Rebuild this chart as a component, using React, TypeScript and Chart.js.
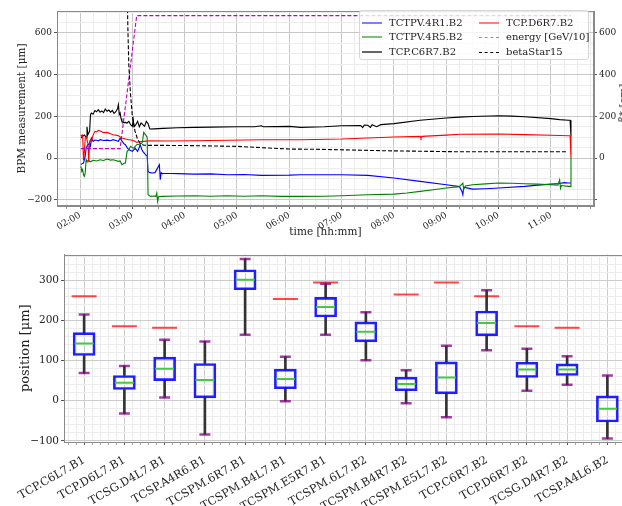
import React, { useEffect, useRef } from 'react';
import { Chart, registerables } from 'chart.js';

Chart.register(...registerables);

const SERIF = "'DejaVu Serif', serif";
const TXT = '#222';

// ---------------- top chart data (time hh:mm, value) ----------------
const TCTPV_4R1_B2: [string, number][] = [
  ['02:01', -32], ['02:02', -28], ['02:04', -24], ['02:05', -8], ['02:06', 10], ['02:07', 48], ['02:09', 64],
  ['02:11', 70], ['02:12', 58], ['02:13', 96], ['02:15', 80], ['02:17', 86], ['02:19', 85], ['02:21', 82],
  ['02:23', 88], ['02:27', 84], ['02:31', 86], ['02:35', 83], ['02:38', 88], ['02:41', 84], ['02:44', 80],
  ['02:46', 96], ['02:48', 82], ['02:50', 70], ['02:52', 64], ['02:54', 50], ['02:56', 40], ['02:58', 36],
  ['03:00', 32], ['03:02', 42], ['03:03', 48], ['03:05', 38], ['03:06', 32], ['03:08', 52], ['03:09', 64],
  ['03:11', 40], ['03:12', 32], ['03:15', 16], ['03:17', 10], ['03:18', -64], ['03:20', -70], ['03:23', -72],
  ['03:26', -70], ['03:30', -40], ['03:31', -32], ['03:32', -104], ['03:33', -70], ['03:34', -74], ['03:45', -74],
  ['03:52', -75], ['04:11', -77], ['04:30', -76], ['04:49', -80], ['05:08', -79], ['05:28', -83], ['06:00', -82],
  ['06:13', -80], ['06:40', -80], ['07:00', -80], ['07:30', -83], ['08:00', -96], ['08:30', -112], ['09:00', -128],
  ['09:15', -137], ['09:18', -160], ['09:19', -176], ['09:20', -140], ['09:30', -149], ['09:45', -147],
  ['10:00', -144], ['10:30', -136], ['10:45', -130], ['11:00', -125], ['11:10', -122], ['11:15', -118],
  ['11:20', -120], ['11:23', -120],
];

const TCTPV_4R5_B2: [string, number][] = [
  ['02:01', -40], ['02:02', -64], ['02:03', -55], ['02:04', -80], ['02:05', -88], ['02:06', -70], ['02:07', -8],
  ['02:08', -16], ['02:10', -12], ['02:12', -18], ['02:15', -11], ['02:19', -14], ['02:23', -8], ['02:27', -12],
  ['02:31', -5], ['02:35', -10], ['02:38', -8], ['02:41', -12], ['02:44', -16], ['02:46', -14], ['02:48', -32],
  ['02:50', -26], ['02:52', -24], ['02:54', 32], ['02:56', 40], ['02:58', 56], ['03:00', 50], ['03:02', 48],
  ['03:04', 60], ['03:05', 64], ['03:08', 66], ['03:11', 72], ['03:12', 90], ['03:13', 123], ['03:15', 112],
  ['03:17', 100], ['03:18', -176], ['03:21', -184], ['03:25', -182], ['03:27', -184], ['03:28', -168],
  ['03:29', -208], ['03:30', -186], ['03:34', -184], ['03:52', -182], ['04:11', -181], ['04:30', -183],
  ['04:49', -181], ['05:08', -183], ['05:28', -181], ['05:50', -184], ['06:13', -184], ['06:40', -183],
  ['07:00', -181], ['07:30', -176], ['08:00', -173], ['08:15', -168], ['08:30', -160], ['08:45', -152],
  ['09:00', -144], ['09:15', -137], ['09:19', -120], ['09:20', -150], ['09:22', -134], ['09:30', -128],
  ['09:45', -124], ['10:00', -120], ['10:15', -121], ['10:30', -123], ['10:45', -125], ['11:00', -128],
  ['11:08', -130], ['11:10', -105], ['11:11', -145], ['11:12', -132], ['11:20', -136], ['11:22', -136], ['11:23', 0],
];

const TCP_C6R7_B2: [string, number][] = [
  ['02:01', 96], ['02:03', 104], ['02:05', 110], ['02:07', 100], ['02:08', 150], ['02:09', 112], ['02:11', 128],
  ['02:12', 208], ['02:13', 216], ['02:15', 210], ['02:17', 228], ['02:19', 222], ['02:21', 232], ['02:23', 220],
  ['02:25', 226], ['02:27', 218], ['02:29', 235], ['02:31', 224], ['02:33', 230], ['02:35', 220], ['02:37', 228],
  ['02:39', 214], ['02:41', 222], ['02:43', 236], ['02:44', 256], ['02:45', 208], ['02:46', 216], ['02:47', 190],
  ['02:48', 176], ['02:50', 170], ['02:52', 171], ['02:54', 168], ['02:56', 176], ['02:58', 160], ['03:00', 152],
  ['03:01', 184], ['03:02', 150], ['03:04', 160], ['03:06', 176], ['03:08', 150], ['03:10', 168], ['03:12', 160],
  ['03:14', 152], ['03:16', 176], ['03:18', 165], ['03:20', 139], ['03:25', 140], ['03:35', 142], ['03:52', 145],
  ['04:11', 147], ['04:30', 148], ['05:00', 150], ['05:20', 150], ['05:28', 155], ['05:30', 150], ['06:00', 152],
  ['06:13', 147], ['06:40', 150], ['07:00', 155], ['07:22', 156], ['07:24', 146], ['07:26', 158], ['07:30', 157],
  ['07:33', 147], ['07:35', 160], ['07:40', 150], ['07:45', 160], ['08:00', 165], ['08:30', 181], ['09:00', 192],
  ['09:15', 196], ['09:30', 199], ['10:00', 203], ['10:15', 201], ['10:30', 198], ['11:00', 189], ['11:10', 184],
  ['11:20', 181], ['11:22', 181], ['11:23', 105],
];

const TCP_D6R7_B2: [string, number][] = [
  ['02:01', 112], ['02:02', 104], ['02:03', 110], ['02:04', -10], ['02:05', 30], ['02:06', 95], ['02:07', 100],
  ['02:08', 88], ['02:09', 70], ['02:10', -20], ['02:11', 80], ['02:12', 88], ['02:13', 80], ['02:15', 110],
  ['02:17', 128], ['02:19', 125], ['02:21', 133], ['02:23', 130], ['02:25', 126], ['02:27', 122], ['02:31', 123],
  ['02:35', 116], ['02:38', 112], ['02:41', 110], ['02:44', 107], ['02:48', 96], ['02:52', 91], ['02:56', 88],
  ['03:00', 85], ['03:03', 80], ['03:05', 75], ['03:08', 78], ['03:13', 80], ['03:20', 83], ['03:40', 82],
  ['04:11', 83], ['04:49', 85], ['05:28', 88], ['06:13', 88], ['07:00', 91], ['07:30', 96], ['08:00', 101],
  ['08:30', 104], ['08:31', 95], ['08:32', 104], ['09:00', 110], ['09:15', 114], ['10:00', 115], ['10:30', 112],
  ['11:00', 109], ['11:20', 107], ['11:22', 107], ['11:23', 0],
];

const ENERGY: [string, number][] = [['02:01', 45], ['02:46', 45], ['03:05', 683], ['11:23', 683]];

const BETA_STAR_15: [string, number][] = [
  ['02:01', 1100], ['02:53', 1100], ['02:54', 800], ['02:55', 600], ['02:56', 440], ['02:58', 300], ['03:00', 200],
  ['03:03', 130], ['03:06', 90], ['03:09', 70], ['03:13', 61], ['04:00', 60], ['05:00', 56], ['05:36', 48],
  ['06:00', 43], ['06:30', 42], ['07:49', 35], ['09:16', 30], ['11:19', 30],
];

const LEFT_TICKS = [-200, 0, 200, 400, 600];
const RIGHT_TICKS = [0, 200, 400, 600];

// ---------------- bottom chart data ----------------
const BOX_LABELS = [
  'TCP.C6L7.B1', 'TCP.D6L7.B1', 'TCSG.D4L7.B1', 'TCSP.A4R6.B1', 'TCSPM.6R7.B1', 'TCSPM.B4L7.B1', 'TCSPM.E5R7.B1',
  'TCSPM.6L7.B2', 'TCSPM.B4R7.B2', 'TCSPM.E5L7.B2', 'TCP.C6R7.B2', 'TCP.D6R7.B2', 'TCSG.D4R7.B2', 'TCSP.A4L6.B2',
];
const WHISKER_LOW = [69, -32, 8, -84, 165, -1, 165, 101, -6, -41, 126, 25, 40, -94];
const Q1 = [113, 28, 50, 7, 277, 30, 209, 147, 25, 17, 162, 58, 63, -53];
const MEDIAN = [143, 45, 80, 52, 302, 54, 234, 172, 42, 58, 194, 78, 78, -20];
const Q3 = [170, 63, 109, 93, 327, 79, 258, 197, 59, 97, 224, 96, 92, 12];
const WHISKER_HIGH = [215, 87, 152, 148, 354, 110, 292, 221, 76, 137, 276, 130, 111, 63];
const LIMIT: (number | null)[] = [261, 186, 182, null, null, 254, 295, null, 265, 295, 261, 186, 182, null];

// ---------------- helpers ----------------
const toMin = (s: string) => {
  const [h, m] = s.split(':').map(Number);
  return h * 60 + m;
};
const pts = (arr: [string, number][]) => arr.map(([t, v]) => ({ x: toMin(t), y: v }));
const fmt = (v: number) => (v < 0 ? '\u2212' + Math.abs(v) : String(v));
const hhmm = (m: number) => {
  const h = Math.floor(m / 60);
  const mm = Math.round(m % 60);
  return String(h).padStart(2, '0') + ':' + String(mm).padStart(2, '0');
};

const framePlugin = {
  id: 'frame',
  afterDatasetsDraw(chart: any) {
    const { ctx, chartArea: a } = chart;
    ctx.save();
    ctx.strokeStyle = '#8a8a8a';
    ctx.lineWidth = 1;
    ctx.strokeRect(Math.round(a.left) + 0.5, Math.round(a.top) + 0.5, Math.round(a.right - a.left) - 1, Math.round(a.bottom - a.top) - 1);
    ctx.restore();
  },
};

const catLabelPlugin = {
  id: 'catLabels',
  afterDraw(chart: any) {
    const { ctx, chartArea } = chart;
    const xs = chart.scales.x;
    ctx.save();
    ctx.font = `11.3px ${SERIF}`;
    ctx.fillStyle = TXT;
    ctx.textAlign = 'right';
    ctx.textBaseline = 'alphabetic';
    BOX_LABELS.forEach((lab, i) => {
      const px = xs.getPixelForValue(i + 1);
      ctx.save();
      ctx.translate(px + 1.5, chartArea.bottom + 20);
      ctx.rotate(-Math.PI / 6);
      ctx.fillText(lab, 0, 0);
      ctx.restore();
    });
    ctx.restore();
  },
};

const TOP_W = 622;
const TOP_H = 240;
const BOT_W = 650;
const BOT_H = 266;

const LEGEND = [
  { label: 'TCTPV.4R1.B2', color: 'rgba(0,0,255,0.5)', dash: false },
  { label: 'TCP.D6R7.B2', color: 'rgba(255,0,0,0.5)', dash: false },
  { label: 'TCTPV.4R5.B2', color: 'rgba(0,128,0,0.5)', dash: false },
  { label: 'energy [GeV/10]', color: 'rgba(191,0,191,0.6)', dash: true },
  { label: 'TCP.C6R7.B2', color: 'rgba(0,0,0,0.6)', dash: false },
  { label: 'betaStar15', color: '#000', dash: true },
];

export default function App() {
  const topRef = useRef<HTMLCanvasElement>(null);
  const botRef = useRef<HTMLCanvasElement>(null);

  useEffect(() => {
    const line = (label: string, data: any, color: string, order: number, dash?: number[]) => ({
      label,
      data,
      borderColor: color,
      backgroundColor: color,
      borderWidth: 1.1,
      borderDash: dash || [],
      pointRadius: 0,
      tension: 0,
      order,
      yAxisID: 'y',
    });

    const top = new Chart(topRef.current!, {
      type: 'line',
      data: {
        datasets: [
          line('TCTPV.4R1.B2', pts(TCTPV_4R1_B2), '#0000ff', 6),
          line('TCTPV.4R5.B2', pts(TCTPV_4R5_B2), '#008000', 5),
          line('TCP.C6R7.B2', pts(TCP_C6R7_B2), '#000000', 4),
          line('TCP.D6R7.B2', pts(TCP_D6R7_B2), '#ff0000', 3),
          line('energy [GeV/10]', pts(ENERGY), '#bf00bf', 2, [4, 2]),
          line('betaStar15', pts(BETA_STAR_15), '#000000', 1, [4, 2]),
        ],
      },
      options: {
        animation: false,
        responsive: false,
        devicePixelRatio: 1,
        events: [],
        layout: { padding: { top: 11, left: 0, right: 0, bottom: 0 } },
        plugins: { legend: { display: false }, tooltip: { enabled: false } },
        scales: {
          x: {
            type: 'linear',
            min: 93.6,
            max: 709.4,
            afterBuildTicks: (s: any) => {
              const t = [];
              for (let m = 105; m <= 705; m += 15) t.push({ value: m });
              s.ticks = t;
            },
            ticks: {
              autoSkip: false,
              minRotation: 30,
              maxRotation: 30,
              padding: 1,
              color: TXT,
              font: { family: SERIF, size: 9 },
              callback: (v: any) => (Number(v) % 60 === 0 ? hhmm(Number(v)) : ''),
            },
            grid: {
              color: (c: any) => (c.tick && c.tick.value % 60 === 0 ? '#c8c8c8' : '#ececec'),
              tickColor: (c: any) => (c.tick && c.tick.value % 60 === 0 ? '#555' : '#999'),
              tickLength: 3,
            },
            border: { color: '#8a8a8a' },
            title: {
              display: true,
              text: 'time [hh:mm]',
              color: TXT,
              font: { family: SERIF, size: 10.5, lineHeight: 1.2 },
              padding: { top: 0, bottom: 1 },
            },
            afterFit: (s: any) => {
              s.height = TOP_H - 206;
            },
          },
          y: {
            position: 'left',
            min: -230,
            max: 705,
            afterBuildTicks: (s: any) => {
              const t = [];
              for (let v = -200; v <= 700; v += 50) t.push({ value: v });
              s.ticks = t;
            },
            ticks: {
              autoSkip: false,
              padding: 2,
              color: TXT,
              font: { family: SERIF, size: 9 },
              callback: (v: any) => (LEFT_TICKS.includes(Number(v)) ? fmt(Number(v)) : ''),
            },
            grid: {
              color: (c: any) => (c.tick && c.tick.value % 200 === 0 ? '#c8c8c8' : '#ececec'),
              tickColor: (c: any) => (c.tick && c.tick.value % 200 === 0 ? '#555' : 'rgba(0,0,0,0)'),
              tickLength: 3,
            },
            border: { color: '#8a8a8a' },
            title: {
              display: true,
              text: 'BPM measurement [μm]',
              color: TXT,
              font: { family: SERIF, size: 10.5, lineHeight: 1.2 },
              padding: { top: 16, bottom: 0 },
            },
            afterFit: (s: any) => {
              s.width = 57;
            },
          },
          y1: {
            position: 'right',
            min: -230,
            max: 705,
            afterBuildTicks: (s: any) => {
              s.ticks = [-200, 0, 200, 400, 600].map((v) => ({ value: v }));
            },
            ticks: {
              autoSkip: false,
              padding: 2,
              color: TXT,
              font: { family: SERIF, size: 9 },
              callback: (v: any) => (RIGHT_TICKS.includes(Number(v)) ? fmt(Number(v)) : ''),
            },
            grid: { drawOnChartArea: false, tickLength: 3, tickColor: '#555' },
            border: { color: '#8a8a8a' },
            afterFit: (s: any) => {
              s.width = TOP_W - 594;
            },
          },
        },
      },
      plugins: [framePlugin],
    } as any);

    const idx = (i: number) => i + 1;
    const bot = new Chart(botRef.current!, {
      type: 'bar',
      data: {
        datasets: [
          {
            type: 'scatter',
            label: 'limit',
            data: LIMIT.map((v, i) => (v == null ? null : { x: idx(i), y: v })).filter(Boolean),
            pointStyle: 'line',
            pointRadius: 12.5,
            borderColor: 'rgba(255,0,0,0.72)',
            backgroundColor: 'rgba(255,0,0,0.72)',
            pointBorderWidth: 2,
            order: 6,
          },
          {
            type: 'bar',
            label: 'whisker low',
            data: WHISKER_LOW.map((v, i) => ({ x: idx(i), y: [v, Q1[i]] })),
            backgroundColor: '#333',
            borderWidth: 0,
            barThickness: 2,
            grouped: false,
            order: 5,
          },
          {
            type: 'bar',
            label: 'whisker high',
            data: WHISKER_HIGH.map((v, i) => ({ x: idx(i), y: [Q3[i], v] })),
            backgroundColor: '#333',
            borderWidth: 0,
            barThickness: 2,
            grouped: false,
            order: 5,
          },
          {
            type: 'bar',
            label: 'box',
            data: Q1.map((v, i) => ({ x: idx(i), y: [v, Q3[i]] })),
            backgroundColor: 'rgba(0,0,0,0)',
            borderColor: 'rgba(0,0,255,0.88)',
            borderWidth: 2,
            borderSkipped: false,
            barThickness: 22,
            grouped: false,
            order: 3,
          },
          {
            type: 'scatter',
            label: 'caps',
            data: [
              ...WHISKER_LOW.map((v, i) => ({ x: idx(i), y: v })),
              ...WHISKER_HIGH.map((v, i) => ({ x: idx(i), y: v })),
            ],
            pointStyle: 'line',
            pointRadius: 5.5,
            borderColor: 'rgba(128,0,128,0.75)',
            backgroundColor: 'rgba(128,0,128,0.75)',
            pointBorderWidth: 2.5,
            order: 2,
          },
          {
            type: 'scatter',
            label: 'median',
            data: MEDIAN.map((v, i) => ({ x: idx(i), y: v })),
            pointStyle: 'line',
            pointRadius: 9.5,
            borderColor: 'rgb(70,200,70)',
            backgroundColor: 'rgb(70,200,70)',
            pointBorderWidth: 2,
            order: 1,
          },
        ],
      },
      options: {
        animation: false,
        responsive: false,
        devicePixelRatio: 1,
        events: [],
        layout: { padding: { top: 10, left: 0, right: BOT_W - 627.5, bottom: 0 } },
        plugins: { legend: { display: false }, tooltip: { enabled: false } },
        scales: {
          x: {
            type: 'linear',
            min: 0.5,
            max: 14.5,
            offset: false,
            afterBuildTicks: (s: any) => {
              const t = [];
              for (let k = 3; k <= 72; k++) t.push({ value: k / 5 });
              s.ticks = t;
            },
            ticks: {
              autoSkip: false,
              minRotation: 0,
              maxRotation: 0,
              callback: () => '',
            },
            grid: {
              offset: false,
              color: (c: any) => (c.tick && Math.abs(c.tick.value - Math.round(c.tick.value)) < 1e-6 ? '#cdcdcd' : '#ececec'),
              tickColor: (c: any) => (c.tick && Math.abs(c.tick.value - Math.round(c.tick.value)) < 1e-6 ? '#555' : '#aaa'),
              tickLength: 3,
            },
            border: { color: '#8a8a8a' },
            afterFit: (s: any) => {
              s.height = BOT_H - 202;
            },
          },
          y: {
            min: -103,
            max: 365,
            beginAtZero: false,
            afterBuildTicks: (s: any) => {
              const t = [];
              for (let v = -100; v <= 360; v += 20) t.push({ value: v });
              s.ticks = t;
            },
            ticks: {
              autoSkip: false,
              padding: 2,
              color: TXT,
              font: { family: SERIF, size: 10.5 },
              callback: (v: any) => (Number(v) % 100 === 0 ? fmt(Number(v)) : ''),
            },
            grid: {
              color: (c: any) => (c.tick && c.tick.value % 100 === 0 ? '#cdcdcd' : '#ececec'),
              tickColor: (c: any) => (c.tick && c.tick.value % 100 === 0 ? '#555' : 'rgba(0,0,0,0)'),
              tickLength: 3,
            },
            border: { color: '#8a8a8a' },
            title: {
              display: true,
              text: 'position [μm]',
              color: TXT,
              font: { family: SERIF, size: 13, lineHeight: 1.2 },
              padding: { top: 18, bottom: 0 },
            },
            afterFit: (s: any) => {
              s.width = 64;
            },
          },
        },
      },
      plugins: [framePlugin, catLabelPlugin],
    } as any);

    return () => {
      top.destroy();
      bot.destroy();
    };
  }, []);

  const rowY = [12, 26, 41];
  return (
    <div style={{ position: 'fixed', left: 0, top: 0, width: 622, height: 506, overflow: 'hidden', background: '#fff' }}>
      <canvas ref={topRef} width={TOP_W} height={TOP_H} style={{ position: 'absolute', left: 0, top: 0 }} />
      <canvas ref={botRef} width={BOT_W} height={BOT_H} style={{ position: 'absolute', left: 0, top: 240 }} />
      <div
        style={{
          position: 'absolute',
          left: 359,
          top: 10,
          width: 230,
          height: 50,
          boxSizing: 'border-box',
          border: '1px solid #d6d6d6',
          borderRadius: 3,
          background: 'rgba(255,255,255,0.8)',
          fontFamily: SERIF,
          fontSize: 10,
          color: TXT,
        }}
      >
        {LEGEND.map((it, i) => {
          const col = i % 2;
          const row = Math.floor(i / 2);
          const lx = col === 0 ? 2 : 119;
          return (
            <div key={it.label} style={{ position: 'absolute', left: lx, top: rowY[row] - 6, height: 12, display: 'flex', alignItems: 'center', whiteSpace: 'nowrap' }}>
              <div
                style={{
                  width: 20,
                  height: 0,
                  borderTop: it.dash ? `1.5px dashed ${it.color}` : `2px solid ${it.color}`,
                  marginRight: 7,
                }}
              />
              <span style={{ lineHeight: '12px' }}>{it.label}</span>
            </div>
          );
        })}
      </div>
      <div
        style={{
          position: 'absolute',
          left: 617,
          top: 103,
          fontFamily: SERIF,
          fontSize: 10.5,
          color: TXT,
          whiteSpace: 'nowrap',
          transformOrigin: '0 0',
          transform: 'rotate(-90deg) translate(-50%, 0)',
        }}
      >
        β* [cm]
      </div>
    </div>
  );
}
